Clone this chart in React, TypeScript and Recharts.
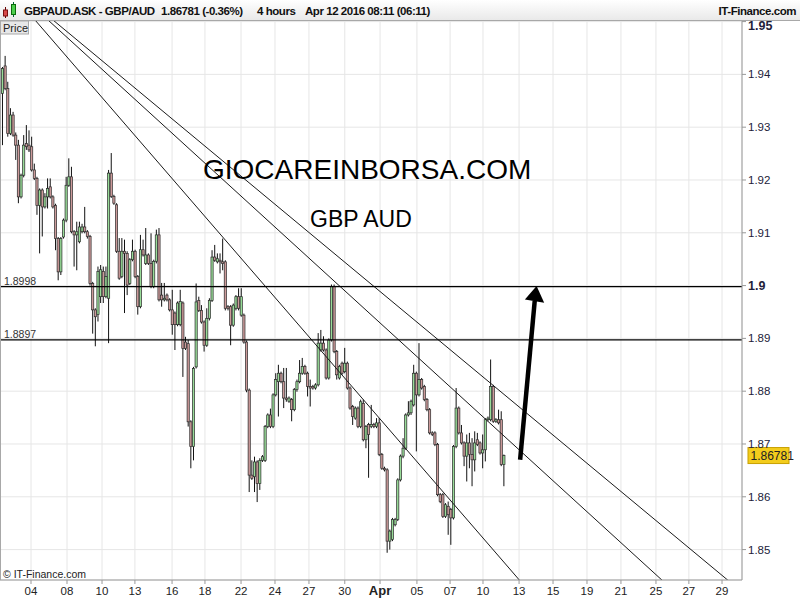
import React from "react";
import {
  Bar,
  CartesianGrid,
  ComposedChart,
  ReferenceDot,
  ReferenceLine,
  XAxis,
  YAxis
} from "recharts";

// 4h candles, GBP/AUD, early March to 12 Apr 2016
const opens = [
  1.9364, 1.9416, 1.9373, 1.9288, 1.9323, 1.9285, 1.9266, 1.9168, 1.9209, 1.9269,
  1.9266, 1.9263, 1.9219, 1.9203, 1.9152, 1.9181, 1.9149, 1.9168, 1.9187, 1.9168,
  1.9152, 1.9089, 1.9026, 1.9092, 1.9124, 1.919, 1.9206, 1.9102, 1.9096, 1.9083,
  1.9102, 1.9111, 1.9102, 1.9093, 1.9004, 1.8954, 1.8945, 1.8979, 1.9027, 1.8979,
  1.8976, 1.9213, 1.9169, 1.9153, 1.9065, 1.9017, 1.9065, 1.9061, 1.9004, 1.9049,
  1.9065, 1.9017, 1.896, 1.9068, 1.9042, 1.9058, 1.9042, 1.8998, 1.9046, 1.9096,
  1.8982, 1.8973, 1.8982, 1.8973, 1.8954, 1.8948, 1.8926, 1.8926, 1.8967, 1.8893,
  1.889, 1.8742, 1.8695, 1.8846, 1.8972, 1.8953, 1.8931, 1.8887, 1.8938, 1.8972,
  1.9054, 1.9045, 1.9048, 1.9045, 1.9045, 1.896, 1.896, 1.8925, 1.8957, 1.8979,
  1.8944, 1.8944, 1.8893, 1.8802, 1.8641, 1.8638, 1.8666, 1.8625, 1.8669, 1.8669,
  1.8733, 1.8755, 1.8733, 1.8793, 1.8818, 1.8834, 1.8818, 1.8787, 1.8781, 1.8784,
  1.8765, 1.8803, 1.8818, 1.8834, 1.8847, 1.8834, 1.8809, 1.8809, 1.8806, 1.8812,
  1.8878, 1.8891, 1.8878, 1.8825, 1.8897, 1.8998, 1.8875, 1.8825, 1.8853, 1.8837,
  1.8853, 1.8806, 1.8771, 1.8749, 1.8768, 1.8733, 1.8777, 1.8708, 1.8737, 1.8733,
  1.8737, 1.8733, 1.874, 1.868, 1.8654, 1.8651, 1.8516, 1.8519, 1.8547, 1.8557,
  1.8632, 1.8677, 1.8692, 1.8755, 1.8759, 1.8774, 1.8834, 1.8793, 1.8822, 1.8809,
  1.8784, 1.8765, 1.8721, 1.8721, 1.8699, 1.8604, 1.8604, 1.8563, 1.8582, 1.8576,
  1.856, 1.8695, 1.8768, 1.8721, 1.8702, 1.8677, 1.8702, 1.868, 1.867, 1.8708,
  1.8702, 1.8683, 1.8689, 1.8746, 1.8746, 1.8809, 1.8743, 1.8746, 1.8746, 1.8661
];
const highs = [
  1.9414, 1.9435, 1.9386, 1.9336, 1.9329, 1.929, 1.9276, 1.9212, 1.9285, 1.9304,
  1.9294, 1.9282, 1.9231, 1.9206, 1.9184, 1.9184, 1.9175, 1.9203, 1.9203, 1.9171,
  1.9155, 1.9092, 1.9092, 1.9127, 1.9206, 1.9241, 1.9225, 1.9105, 1.9121, 1.9121,
  1.9117, 1.9149, 1.9105, 1.9096, 1.9007, 1.8957, 1.9036, 1.9039, 1.9036, 1.9036,
  1.9219, 1.9251, 1.9172, 1.9156, 1.909, 1.909, 1.9087, 1.9065, 1.9052, 1.9087,
  1.9068, 1.902, 1.9096, 1.9087, 1.9109, 1.9061, 1.9099, 1.9049, 1.9106, 1.9109,
  1.9005, 1.9005, 1.8985, 1.8976, 1.8992, 1.8951, 1.897, 1.8992, 1.897, 1.8903,
  1.8897, 1.8745, 1.8846, 1.9004, 1.8979, 1.8963, 1.8934, 1.8957, 1.8976, 1.9067,
  1.9077, 1.9061, 1.9061, 1.9089, 1.9048, 1.8963, 1.8963, 1.8966, 1.8982, 1.8995,
  1.8995, 1.8947, 1.8896, 1.8805, 1.8669, 1.8676, 1.8669, 1.8673, 1.8679, 1.8736,
  1.8758, 1.8767, 1.8796, 1.8834, 1.885, 1.8837, 1.8844, 1.8844, 1.879, 1.8787,
  1.8806, 1.8822, 1.8859, 1.8863, 1.885, 1.8837, 1.8822, 1.8812, 1.8815, 1.891,
  1.8916, 1.8904, 1.8881, 1.89, 1.9002, 1.9002, 1.8878, 1.885, 1.8856, 1.8882,
  1.8856, 1.8809, 1.8774, 1.8771, 1.8771, 1.8784, 1.8784, 1.8736, 1.874, 1.8774,
  1.874, 1.8749, 1.8749, 1.8683, 1.8657, 1.8654, 1.8538, 1.856, 1.856, 1.8635,
  1.868, 1.8711, 1.8758, 1.8781, 1.8784, 1.885, 1.8837, 1.8891, 1.8825, 1.8812,
  1.8787, 1.8768, 1.8724, 1.8724, 1.8702, 1.8607, 1.8607, 1.8588, 1.8591, 1.8579,
  1.8698, 1.8806, 1.8771, 1.8736, 1.8705, 1.8718, 1.8721, 1.8711, 1.8724, 1.8721,
  1.8705, 1.8718, 1.8749, 1.8752, 1.886, 1.8812, 1.8749, 1.8765, 1.8762, 1.868
];
const lows = [
  1.9266, 1.937, 1.9282, 1.9285, 1.9282, 1.9238, 1.9156, 1.9165, 1.9205, 1.9257,
  1.9253, 1.9216, 1.92, 1.9134, 1.9061, 1.9093, 1.9146, 1.9146, 1.9165, 1.9146,
  1.9067, 1.901, 1.902, 1.9089, 1.912, 1.9187, 1.9099, 1.9036, 1.9029, 1.908,
  1.9099, 1.9099, 1.9089, 1.9, 1.8909, 1.8885, 1.8932, 1.8967, 1.8967, 1.8976,
  1.8891, 1.9166, 1.9153, 1.9062, 1.9011, 1.9014, 1.8948, 1.8982, 1.9001, 1.9046,
  1.9014, 1.8945, 1.8957, 1.9055, 1.9039, 1.9039, 1.8995, 1.8995, 1.9042, 1.897,
  1.896, 1.897, 1.897, 1.8951, 1.8907, 1.8878, 1.8923, 1.8923, 1.8827, 1.8878,
  1.8733, 1.8654, 1.8669, 1.8843, 1.895, 1.8928, 1.8875, 1.8884, 1.8934, 1.8969,
  1.9045, 1.9042, 1.9023, 1.9029, 1.8953, 1.8953, 1.8887, 1.8922, 1.8953, 1.8953,
  1.8941, 1.889, 1.8798, 1.8609, 1.8632, 1.8609, 1.859, 1.8613, 1.8666, 1.8666,
  1.873, 1.873, 1.873, 1.879, 1.8752, 1.8815, 1.8768, 1.878, 1.8778, 1.8743,
  1.8762, 1.8799, 1.8815, 1.8831, 1.8831, 1.879, 1.8771, 1.8803, 1.8803, 1.8809,
  1.8875, 1.8875, 1.8822, 1.8822, 1.8894, 1.8872, 1.8822, 1.8822, 1.8831, 1.8834,
  1.8803, 1.8765, 1.8736, 1.8746, 1.873, 1.873, 1.8705, 1.8692, 1.8636, 1.873,
  1.873, 1.873, 1.8677, 1.8651, 1.8648, 1.8494, 1.85, 1.8516, 1.8544, 1.8554,
  1.8629, 1.8673, 1.8689, 1.8752, 1.8755, 1.8771, 1.8686, 1.879, 1.8803, 1.8781,
  1.8762, 1.8718, 1.8715, 1.8696, 1.8601, 1.8588, 1.856, 1.856, 1.8528, 1.8509,
  1.8557, 1.8692, 1.8718, 1.8699, 1.8658, 1.8629, 1.8654, 1.862, 1.8648, 1.8696,
  1.868, 1.8654, 1.8667, 1.8743, 1.8743, 1.874, 1.874, 1.8737, 1.8658, 1.862
];
const closes = [
  1.9411, 1.9373, 1.9288, 1.9323, 1.9285, 1.9266, 1.9168, 1.9209, 1.9266, 1.9263,
  1.9257, 1.9219, 1.9203, 1.9152, 1.9181, 1.9149, 1.9168, 1.9184, 1.9168, 1.9149,
  1.9089, 1.9026, 1.9089, 1.9124, 1.919, 1.9206, 1.9102, 1.9096, 1.9102, 1.9111,
  1.9111, 1.9102, 1.9093, 1.9004, 1.8954, 1.8941, 1.9027, 1.903, 1.8979, 1.9017,
  1.9213, 1.9169, 1.9156, 1.9065, 1.9014, 1.9065, 1.9061, 1.9001, 1.9049, 1.9065,
  1.9017, 1.896, 1.9068, 1.9058, 1.9058, 1.9042, 1.8998, 1.9046, 1.9096, 1.8973,
  1.8973, 1.8976, 1.8973, 1.8954, 1.8926, 1.8926, 1.8967, 1.897, 1.8881, 1.8881,
  1.8742, 1.8695, 1.8843, 1.8969, 1.8953, 1.8931, 1.8887, 1.8938, 1.8972, 1.9054,
  1.9048, 1.9051, 1.9045, 1.9042, 1.8957, 1.8957, 1.8925, 1.8963, 1.8979, 1.8957,
  1.8979, 1.8893, 1.8802, 1.8641, 1.8635, 1.8666, 1.8625, 1.8669, 1.8676, 1.8733,
  1.8755, 1.8733, 1.8793, 1.8822, 1.8834, 1.8818, 1.8787, 1.8784, 1.8787, 1.8765,
  1.8803, 1.8818, 1.8834, 1.8847, 1.8834, 1.8809, 1.8806, 1.8806, 1.8812, 1.8891,
  1.8891, 1.8878, 1.8825, 1.8897, 1.8998, 1.8875, 1.8831, 1.8847, 1.8834, 1.8853,
  1.8806, 1.8768, 1.8752, 1.8768, 1.8733, 1.878, 1.8708, 1.8733, 1.8718, 1.8737,
  1.8733, 1.874, 1.868, 1.8654, 1.8651, 1.8516, 1.8535, 1.8557, 1.8557, 1.8632,
  1.8677, 1.8692, 1.8755, 1.8759, 1.8781, 1.8834, 1.8793, 1.8822, 1.8806, 1.8784,
  1.8765, 1.8721, 1.8718, 1.8699, 1.8604, 1.8591, 1.8563, 1.8585, 1.8566, 1.856,
  1.8695, 1.8768, 1.8721, 1.8702, 1.8677, 1.8702, 1.868, 1.867, 1.8702, 1.8699,
  1.8683, 1.8689, 1.8746, 1.8749, 1.8809, 1.8743, 1.8746, 1.874, 1.8661, 1.86781
];

// x is the candle number; date ticks sit between candles
const xTickPos = [
  10.63, 24.2, 37.4, 49.8, 63.8, 76.2, 89.8, 102.6, 115.4, 128.9, 142.2,
  156.1, 168.6, 181.0, 194.6, 207.4, 220.2, 233.0, 246.2, 258.6, 271.1
];
const xTickLabels = [
  "04", "08", "10", "13", "16", "18", "22", "24", "27", "30", "Apr",
  "05", "07", "10", "13", "15", "19", "21", "25", "27", "29"
];
const yTicks = [1.85, 1.86, 1.87, 1.88, 1.89, 1.9, 1.91, 1.92, 1.93, 1.94, 1.95];

const lastPrice = 1.86781;
const levels = [1.8998, 1.8897];
const trendLines = [
  [{ x: 12.14, y: 1.9503 }, { x: 194.76, y: 1.8442 }],
  [{ x: 17.04, y: 1.9503 }, { x: 248.5, y: 1.8442 }],
  [{ x: 18.92, y: 1.9503 }, { x: 273.3, y: 1.8442 }]
];
const arrowShaft = [{ x: 195.0, y: 1.867 }, { x: 200.5, y: 1.8971 }];
const arrowTip = { x: 201.2, y: 1.8999 };

const data = opens.map((open, i) => ({
  i,
  open,
  high: highs[i],
  low: lows[i],
  close: closes[i],
  range: [lows[i], highs[i]]
}));

const FONT = "'Liberation Sans', Arial, sans-serif";

function Candle(props: any) {
  const { x, y, width, height, payload } = props;
  if (!payload || !height) return null;
  const { open, close, high, low } = payload;
  const cx = x + width / 2;
  const toY = (v: number) => y + ((high - v) / (high - low)) * height;
  const top = toY(Math.max(open, close));
  const bottom = toY(Math.min(open, close));
  const up = close >= open;
  return (
    <g>
      <line x1={cx} x2={cx} y1={y} y2={y + height} stroke="#111" strokeWidth={1} />
      <rect
        x={cx - 1.1}
        y={top}
        width={2.2}
        height={Math.max(bottom - top, 0.8)}
        fill={up ? "#98dc98" : "#cc9a9a"}
        stroke="#2a2a2a"
        strokeWidth={0.7}
      />
    </g>
  );
}

function XTick(props: any) {
  const { x, y, payload } = props;
  const idx = xTickPos.indexOf(payload.value);
  const label = xTickLabels[idx] ?? "";
  const isMonth = label === "Apr";
  return (
    <text
      x={x}
      y={y + 9}
      textAnchor="middle"
      fontFamily={FONT}
      fontSize={isMonth ? 13 : 11.5}
      fontWeight={isMonth ? "bold" : "normal"}
      fill="#222">
      {label}
    </text>
  );
}

function YTick(props: any) {
  const { x, y, payload } = props;
  const v = payload.value;
  const strong = v === 1.9 || v === 1.95;
  return (
    <text
      x={x}
      y={y + 4 + (v === 1.95 ? 4 : 0)}
      fontFamily={FONT}
      fontSize={strong ? 12.5 : 11.5}
      fontWeight={strong ? "bold" : "normal"}
      fill="#22223a">
      {String(v)}
    </text>
  );
}

function levelLabel(text: string) {
  return (props: any) => {
    const vb = props.viewBox;
    return (
      <text x={vb.x + 4} y={vb.y - 2} fontFamily={FONT} fontSize={10.5} fill="#333">
        {text}
      </text>
    );
  };
}

function priceTag(props: any) {
  const vb = props.viewBox;
  const x = vb.x + vb.width + 6;
  return (
    <g>
      <rect x={x} y={vb.y - 8} width={41} height={16} fill="#f3cc1c" stroke="#c8a000" />
      <text x={x + 2.5} y={vb.y + 4.5} fontFamily={FONT} fontSize={12} fill="#222">
        {lastPrice.toFixed(5)}
      </text>
    </g>
  );
}

function ArrowHead(props: any) {
  const { cx, cy } = props;
  return (
    <polygon
      points={`${cx},${cy} ${cx - 11.7},${cy + 13.3} ${cx + 7.6},${cy + 16.7}`}
      fill="#000"
    />
  );
}

export default function App() {
  return (
    <div style={{ position: "absolute", left: 0, top: 0, width: 800, height: 600, background: "#fff" }}>
      <ComposedChart
        width={800}
        height={600}
        data={data}
        margin={{ top: 20, right: 0, bottom: 0, left: 0 }}>
        <CartesianGrid stroke="#e6e6e6" />
        <XAxis
          type="number"
          dataKey="i"
          domain={[-1.055, 278.63]}
          allowDataOverflow
          ticks={xTickPos}
          interval={0}
          height={20}
          tickSize={4}
          tick={<XTick />}
          stroke="#999"
        />
        <YAxis
          orientation="right"
          type="number"
          domain={[1.84424, 1.9503]}
          allowDataOverflow
          ticks={yTicks}
          interval={0}
          width={58}
          tickSize={4}
          tickMargin={2}
          tick={<YTick />}
          stroke="#999"
        />
        {trendLines.map((seg, k) => (
          <ReferenceLine key={k} segment={seg} stroke="#1a1a1a" strokeWidth={1} ifOverflow="hidden" />
        ))}
        {levels.map((lv) => (
          <ReferenceLine key={lv} y={lv} stroke="#000" strokeWidth={1.3} label={levelLabel(lv.toFixed(4))} />
        ))}
        <Bar dataKey="range" barSize={2} shape={<Candle />} isAnimationActive={false} />
        <ReferenceLine segment={arrowShaft} stroke="#000" strokeWidth={4.5} />
        <ReferenceDot x={arrowTip.x} y={arrowTip.y} r={1} shape={<ArrowHead />} />
        <ReferenceLine y={lastPrice} stroke="none" label={priceTag} />
      </ComposedChart>

      <svg
        width={800}
        height={600}
        style={{ position: "absolute", left: 0, top: 0, pointerEvents: "none" }}
        fontFamily={FONT}>
        <defs>
          <linearGradient id="hdr" x1="0" y1="0" x2="0" y2="1">
            <stop offset="0" stopColor="#ffffff" />
            <stop offset="1" stopColor="#e9e9e9" />
          </linearGradient>
        </defs>
        <rect x={0} y={0} width={800} height={20} fill="url(#hdr)" />
        <line x1={0} x2={800} y1={20.5} y2={20.5} stroke="#a8a8a8" />
        <line x1={0.5} x2={0.5} y1={20} y2={580} stroke="#a8a8a8" />
        {/* tiny candle icon */}
        <line x1={5.5} x2={5.5} y1={7} y2={18} stroke="#600" />
        <rect x={3.5} y={10} width={4} height={6} fill="#d84a4a" stroke="#7a1010" />
        <line x1={13.5} x2={13.5} y1={2} y2={17} stroke="#063" />
        <rect x={11.5} y={4.5} width={4} height={10} fill="#4ccf4c" stroke="#0a6a0a" />
        <g fontSize={11.5} fontWeight="bold" fill="#111" letterSpacing={-0.45}>
          <text x={24} y={15}>GBPAUD.ASK - GBP/AUD</text>
          <text x={161} y={15}>1.86781 (-0.36%)</text>
          <text x={257} y={15}>4 hours</text>
          <text x={305} y={15}>Apr 12 2016 08:11 (06:11)</text>
          <text x={796} y={15} textAnchor="end">IT-Finance.com</text>
        </g>
        <rect x={0.5} y={21} width={28} height={13} fill="#e8e8e8" stroke="#aaa" />
        <text x={3} y={31.5} fontSize={11} fill="#222">Price</text>
        <text x={203} y={179} fontSize={28} fill="#000">GIOCAREINBORSA.COM</text>
        <text x={310} y={227} fontSize={23} fill="#000">GBP AUD</text>
        <text x={3} y={578} fontSize={10.5} fill="#222">© IT-Finance.com</text>
      </svg>
    </div>
  );
}
